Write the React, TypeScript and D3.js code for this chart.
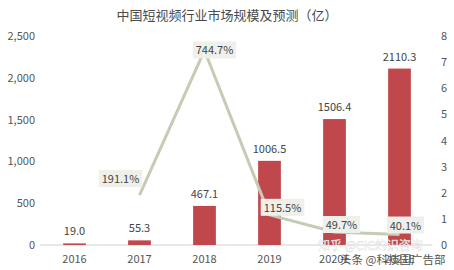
import React from "react";
import * as d3 from "d3";

const categories = ["2016", "2017", "2018", "2019", "2020E", "2021E"];
const categoryLabels = ["2016", "2017", "2018", "2019", "2020E", "2021E"];
const marketSize = [19.0, 55.3, 467.1, 1006.5, 1506.4, 2110.3];
const growthYears = ["2017", "2018", "2019", "2020E", "2021E"];
const growthRate = [1.911, 7.447, 1.155, 0.497, 0.401];
const growthLabels = ["191.1%", "744.7%", "115.5%", "49.7%", "40.1%"];
const leftTicks = [0, 500, 1000, 1500, 2000, 2500];
const rightTicks = [0, 1, 2, 3, 4, 5, 6, 7, 8];
const title = "中国短视频行业市场规模及预测（亿）";

const W = 454;
const H = 270;
const font = "'Noto Sans CJK SC', 'Noto Sans', sans-serif";

export default function App() {
  const x = d3.scaleBand<string>().domain(categories).range([42, 432]).paddingInner(0.65).paddingOuter(0.325);
  const yL = d3.scaleLinear().domain([0, 2500]).range([245, 36]);
  const yR = d3.scaleLinear().domain([0, 8]).range([245, 36]);
  const cx = (c: string) => (x(c) as number) + x.bandwidth() / 2;
  const line = d3
    .line<number>()
    .x((_, i) => cx(growthYears[i]))
    .y((d) => yR(d));
  const labelOffsets: [number, number][] = [
    [-19, -16],
    [10, 0],
    [13, -7],
    [7, -7],
    [6, -9],
  ];
  return (
    <svg width={W} height={H} style={{ position: "absolute", left: 0, top: 0, background: "#fff" }} fontFamily={font}>
      <rect width={W} height={H} fill="#fff" />
      <text x={227} y={20} textAnchor="middle" fontSize={13} fill="#4a4a4a">
        {title}
      </text>
      {leftTicks.map((t) => (
        <text key={"l" + t} x={35} y={yL(t) + 4} textAnchor="end" fontSize={11} fill="#555">
          {d3.format(",")(t)}
        </text>
      ))}
      {rightTicks.map((t) => (
        <text key={"r" + t} x={444} y={yR(t) + 4} textAnchor="middle" fontSize={11} fill="#555">
          {t}
        </text>
      ))}
      <line x1={40} x2={432} y1={yL(0)} y2={yL(0)} stroke="#d0d0d0" strokeWidth={1} />
      {categories.map((c, i) => (
        <g key={c}>
          <rect
            x={x(c)}
            y={yL(marketSize[i])}
            width={x.bandwidth()}
            height={yL(0) - yL(marketSize[i])}
            fill="#c0474b"
          />
          <text x={cx(c)} y={yL(marketSize[i]) - 8} textAnchor="middle" fontSize={11} fill="#444">
            {marketSize[i].toFixed(1)}
          </text>
          <text x={cx(c)} y={263} textAnchor="middle" fontSize={11} fill="#555">
            {categoryLabels[i]}
          </text>
        </g>
      ))}
      <path d={line(growthRate) || ""} fill="none" stroke="#c7cab4" strokeWidth={3} strokeLinejoin="round" />
      {growthRate.map((g, i) => {
        const px = cx(growthYears[i]) + labelOffsets[i][0];
        const py = yR(g) + labelOffsets[i][1];
        const w = growthLabels[i].length * 6.6 + 4;
        return (
          <g key={"g" + i}>
            <rect x={px - w / 2} y={py - 9} width={w} height={17} fill="#f0f0ea" />
            <text x={px} y={py + 4} textAnchor="middle" fontSize={11} fill="#444">
              {growthLabels[i]}
            </text>
          </g>
        );
      })}
      <text x={318} y={250} fontSize={12} fill="#fff" fillOpacity={0.9} stroke="#ddd" strokeWidth={0.4}>
        知乎 @CIC灼识咨询
      </text>
      <text x={340} y={264} fontSize={11.5} fill="#555">
        头条 @科技园广告部
      </text>
    </svg>
  );
}
